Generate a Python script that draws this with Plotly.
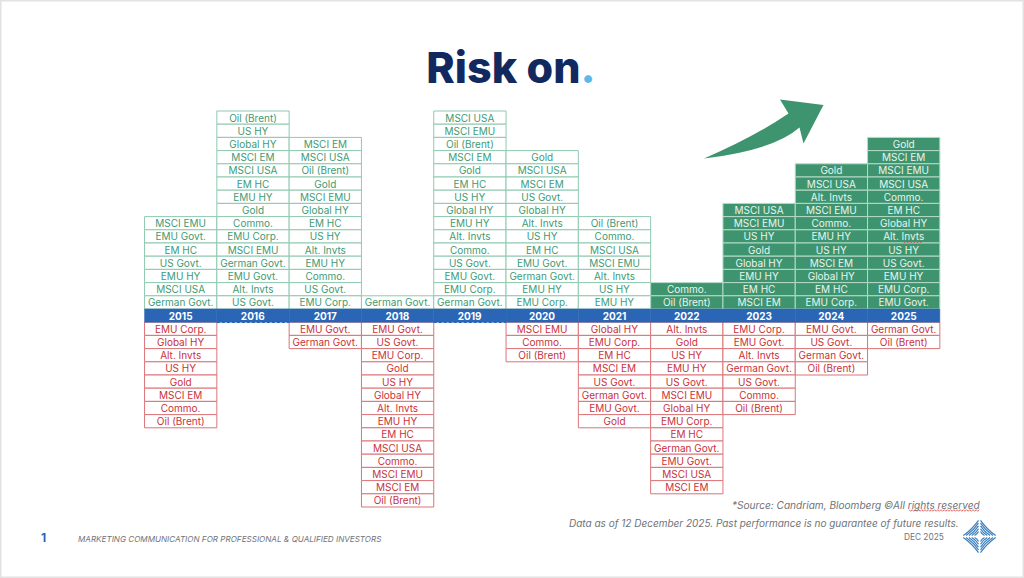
import plotly.graph_objects as go

years = [2015, 2016, 2017, 2018, 2019, 2020, 2021, 2022, 2023, 2024, 2025]

gains_2015 = ["MSCI EMU", "EMU Govt.", "EM HC", "US Govt.", "EMU HY", "MSCI USA", "German Govt."]
gains_2016 = ["Oil (Brent)", "US HY", "Global HY", "MSCI EM", "MSCI USA", "EM HC", "EMU HY", "Gold", "Commo.", "EMU Corp.", "MSCI EMU", "German Govt.", "EMU Govt.", "Alt. Invts", "US Govt."]
gains_2017 = ["MSCI EM", "MSCI USA", "Oil (Brent)", "Gold", "MSCI EMU", "Global HY", "EM HC", "US HY", "Alt. Invts", "EMU HY", "Commo.", "US Govt.", "EMU Corp."]
gains_2018 = ["German Govt."]
gains_2019 = ["MSCI USA", "MSCI EMU", "Oil (Brent)", "MSCI EM", "Gold", "EM HC", "US HY", "Global HY", "EMU HY", "Alt. Invts", "Commo.", "US Govt.", "EMU Govt.", "EMU Corp.", "German Govt."]
gains_2020 = ["Gold", "MSCI USA", "MSCI EM", "US Govt.", "Global HY", "Alt. Invts", "US HY", "EM HC", "EMU Govt.", "German Govt.", "EMU HY", "EMU Corp."]
gains_2021 = ["Oil (Brent)", "Commo.", "MSCI USA", "MSCI EMU", "Alt. Invts", "US HY", "EMU HY"]
gains_2022 = ["Commo.", "Oil (Brent)"]
gains_2023 = ["MSCI USA", "MSCI EMU", "US HY", "Gold", "Global HY", "EMU HY", "EM HC", "MSCI EM"]
gains_2024 = ["Gold", "MSCI USA", "Alt. Invts", "MSCI EMU", "Commo.", "EMU HY", "US HY", "MSCI EM", "Global HY", "EM HC", "EMU Corp."]
gains_2025 = ["Gold", "MSCI EM", "MSCI EMU", "MSCI USA", "Commo.", "EM HC", "Global HY", "Alt. Invts", "US HY", "US Govt.", "EMU HY", "EMU Corp.", "EMU Govt."]

losses_2015 = ["EMU Corp.", "Global HY", "Alt. Invts", "US HY", "Gold", "MSCI EM", "Commo.", "Oil (Brent)"]
losses_2016 = []
losses_2017 = ["EMU Govt.", "German Govt."]
losses_2018 = ["EMU Govt.", "US Govt.", "EMU Corp.", "Gold", "US HY", "Global HY", "Alt. Invts", "EMU HY", "EM HC", "MSCI USA", "Commo.", "MSCI EMU", "MSCI EM", "Oil (Brent)"]
losses_2019 = []
losses_2020 = ["MSCI EMU", "Commo.", "Oil (Brent)"]
losses_2021 = ["Global HY", "EMU Corp.", "EM HC", "MSCI EM", "US Govt.", "German Govt.", "EMU Govt.", "Gold"]
losses_2022 = ["Alt. Invts", "Gold", "US HY", "EMU HY", "US Govt.", "MSCI EMU", "Global HY", "EMU Corp.", "EM HC", "German Govt.", "EMU Govt.", "MSCI USA", "MSCI EM"]
losses_2023 = ["EMU Corp.", "EMU Govt.", "Alt. Invts", "German Govt.", "US Govt.", "Commo.", "Oil (Brent)"]
losses_2024 = ["EMU Govt.", "US Govt.", "German Govt.", "Oil (Brent)"]
losses_2025 = ["German Govt.", "Oil (Brent)"]

gains = [gains_2015, gains_2016, gains_2017, gains_2018, gains_2019, gains_2020, gains_2021, gains_2022, gains_2023, gains_2024, gains_2025]
losses = [losses_2015, losses_2016, losses_2017, losses_2018, losses_2019, losses_2020, losses_2021, losses_2022, losses_2023, losses_2024, losses_2025]
solid_years = [2022, 2023, 2024, 2025]
open_bottom_years = [2016, 2019]

W, H = 1024, 578
FONT = "Inter, 'Open Sans', sans-serif"
NAVY, SKY, BLUE = "#12295f", "#5fb7ee", "#2a66b5"
GREEN_TXT, GREEN_LINE, GREEN_FILL = "#3f9a74", "#8fc9b0", "#3f9470"
RED_TXT, RED_LINE = "#c8323a", "#db7478"
GREY = "#6f7378"

col_px, row_px = 72.3, 13.2
x0_px, y0_px = 180.7, 315.6


def px(x, y):
    return f"{x / W:.5f} {1 - y / H:.5f}"


def rows(sign, source, keep):
    xs, bases, texts = [], [], []
    for yr, labels in zip(years, source):
        if not keep(yr):
            continue
        n = len(labels)
        for i, lab in enumerate(labels):
            rank = n - i if sign > 0 else -(i + 1)
            xs.append(yr)
            bases.append(rank - 0.5)
            texts.append(lab)
    return xs, bases, texts


def cells(xs, bases, texts, fill, line, txt):
    return go.Bar(
        x=xs, y=[1] * len(xs), base=bases, width=1, text=texts,
        marker=dict(color=fill, line=dict(color=line, width=1)),
        textposition="inside", insidetextanchor="middle", textangle=0,
        constraintext="none", cliponaxis=False,
        textfont=dict(family=FONT, size=10, color=txt), hoverinfo="text",
    )


fig = go.Figure()
fig.add_trace(cells(*rows(1, gains, lambda y: y not in solid_years), "white", GREEN_LINE, GREEN_TXT))
fig.add_trace(cells(*rows(1, gains, lambda y: y in solid_years), GREEN_FILL, "#b5dac9", "#e9f5ef"))
fig.add_trace(cells(*rows(-1, losses, lambda y: True), "white", RED_LINE, RED_TXT))
fig.add_trace(go.Bar(
    x=years, y=[1] * len(years), base=[-0.5] * len(years), width=1,
    text=[str(y) for y in years], marker=dict(color=BLUE, line=dict(color=BLUE, width=0.5)),
    textposition="inside", insidetextanchor="middle", textangle=0, constraintext="none",
    textfont=dict(family=FONT, size=10, color="white", weight="bold"), hoverinfo="text",
))

# dashed lower edge of the band where a year has no falling assets
for yr in open_bottom_years:
    fig.add_trace(go.Scatter(
        x=[yr - 0.5, yr + 0.5], y=[-0.5, -0.5], mode="lines",
        line=dict(color=BLUE, width=1.5, dash="3px,2px"), hoverinfo="skip",
    ))

shapes = [
    dict(type="rect", xref="paper", yref="paper", x0=0, x1=1, y0=0, y1=1,
         line=dict(color="#e2e2e2", width=3), layer="below"),
    # rising arrow
    dict(type="path", xref="paper", yref="paper", fillcolor=GREEN_FILL, line=dict(width=0),
         path=f"M {px(704, 158.5)} Q {px(754, 137)} {px(788.5, 113.5)} L {px(780, 99.5)} "
              f"L {px(823.5, 105)} L {px(803.5, 143.5)} L {px(799.5, 127.5)} "
              f"Q {px(774, 150)} {px(704, 158.5)} Z"),
]

# logo: four fans of curved strokes around a diamond
cx, cy = 979.5, 536.5
for sx in (-1, 1):
    for sy in (-1, 1):
        for i in range(5):
            a = 5 + i * 2.8
            shapes.append(dict(
                type="path", xref="paper", yref="paper", line=dict(color="#3b7fbf", width=1.2),
                path=f"M {px(cx + sx * 1, cy + sy * a)} Q {px(cx + sx * a * 0.45, cy + sy * a * 0.45)} "
                     f"{px(cx + sx * a, cy + sy * 1)}",
            ))


def zigzag(x_start, x_end, y):
    pts, x, up = [], x_start, True
    while x <= x_end:
        pts.append(px(x, y - 0.8 if up else y + 0.8))
        x += 1.6
        up = not up
    return "M " + " L ".join(pts)


for seg in ((909, 981, 510.5), (903, 923, 242)):
    shapes.append(dict(type="path", xref="paper", yref="paper",
                       line=dict(color="#d8433f", width=0.8), path=zigzag(*seg)))


def note(x, y, text, anchor="left", size=10, color=GREY, italic=True, bold=False):
    return dict(
        xref="paper", yref="paper", x=x / W, y=1 - y / H, xanchor=anchor, yanchor="middle",
        text=text, showarrow=False,
        font=dict(family=FONT, size=size, color=color,
                  style="italic" if italic else "normal", weight="bold" if bold else "normal"),
    )


annotations = [
    note(982, 505, "*Source: Candriam, Bloomberg ©All rights reserved", "right", 10.1),
    note(961, 523, "Data as of 12 December 2025. Past performance is no guarantee of future results.", "right", 10),
    note(39, 537, "1", "left", 12, BLUE, False, True),
    note(76, 539, "MARKETING COMMUNICATION FOR PROFESSIONAL &amp; QUALIFIED INVESTORS", "left", 8.1),
    note(946, 537, "DEC 2025", "right", 8.3, GREY, False),
]

fig.update_layout(
    width=W, height=H, margin=dict(l=0, r=0, t=0, b=0),
    paper_bgcolor="white", plot_bgcolor="white", showlegend=False, barmode="overlay",
    title=dict(
        text=f"Risk on<span style='color:{SKY}'>.</span>",
        x=511 / W, y=1 - 68 / H, xanchor="center", yanchor="middle", xref="paper", yref="paper",
        font=dict(family=FONT, size=43, color=NAVY, weight=800),
    ),
    xaxis=dict(visible=False, range=[2015 - x0_px / col_px, 2015 + (W - x0_px) / col_px], fixedrange=True),
    yaxis=dict(visible=False, range=[-(H - y0_px) / row_px, y0_px / row_px], fixedrange=True),
    shapes=shapes, annotations=annotations,
)

fig.write_html("out.html", config={"displayModeBar": False},
               post_script="document.body.style.margin='0';document.body.style.overflow='hidden';")
